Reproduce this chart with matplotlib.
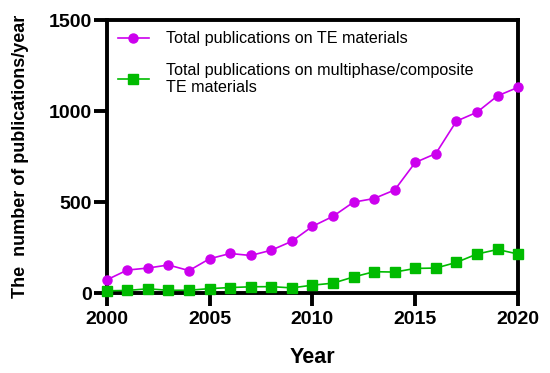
import numpy as np
import matplotlib
matplotlib.use("Agg")
import matplotlib.pyplot as plt

plt.rcParams['font.family'] = ['Liberation Sans', 'DejaVu Sans']

#Data
years = list(range(2000, 2021))
te_total = [73, 127, 138, 155, 124, 189, 218, 207, 236, 285, 367,
            422, 500, 520, 567, 718, 767, 945, 994, 1084, 1131]
te_composite = [13, 15, 24, 16, 16, 25, 31, 35, 36, 29, 44,
                55, 89, 118, 116, 136, 138, 169, 215, 240, 215]

label_total = "Total publications on TE materials"
label_comp = "Total publications on multiphase/composite\nTE materials"

fig = plt.figure(figsize=(5.5, 3.73), dpi=100)
ax = fig.add_axes([0.194, 0.214, 0.748, 0.732])

ax.plot(years, te_total, color='#CC00EE', marker='o', markersize=6.5,
        linewidth=1.2, label=label_total, clip_on=False, zorder=3)
ax.plot(years, te_composite, color='#00BB00', marker='s', markersize=6.5,
        linewidth=1.2, label=label_comp, clip_on=False, zorder=3)

ax.set_xlim(2000, 2020)
ax.set_ylim(0, 1500)
ax.set_xticks([2000, 2005, 2010, 2015, 2020])
ax.set_yticks([0, 500, 1000, 1500])

for s in ax.spines.values():
    s.set_linewidth(2.8)
ax.tick_params(axis='both', width=2.8, length=9.5, labelsize=14, pad=1)
ax.tick_params(axis='x', pad=3)
for lbl in ax.get_xticklabels() + ax.get_yticklabels():
    lbl.set_fontweight('bold')

ax.set_xlabel("Year", fontsize=15.5, fontweight='bold', labelpad=14)
ax.set_ylabel("The  number of publications/year", fontsize=13,
              fontweight='bold', labelpad=14)

ax.legend(loc='upper left', frameon=False, fontsize=11.6, handlelength=1.9,
          handletextpad=1.1, labelspacing=1.0, borderaxespad=0.3,
          borderpad=0.4)

fig.savefig('out.png', dpi=100)
